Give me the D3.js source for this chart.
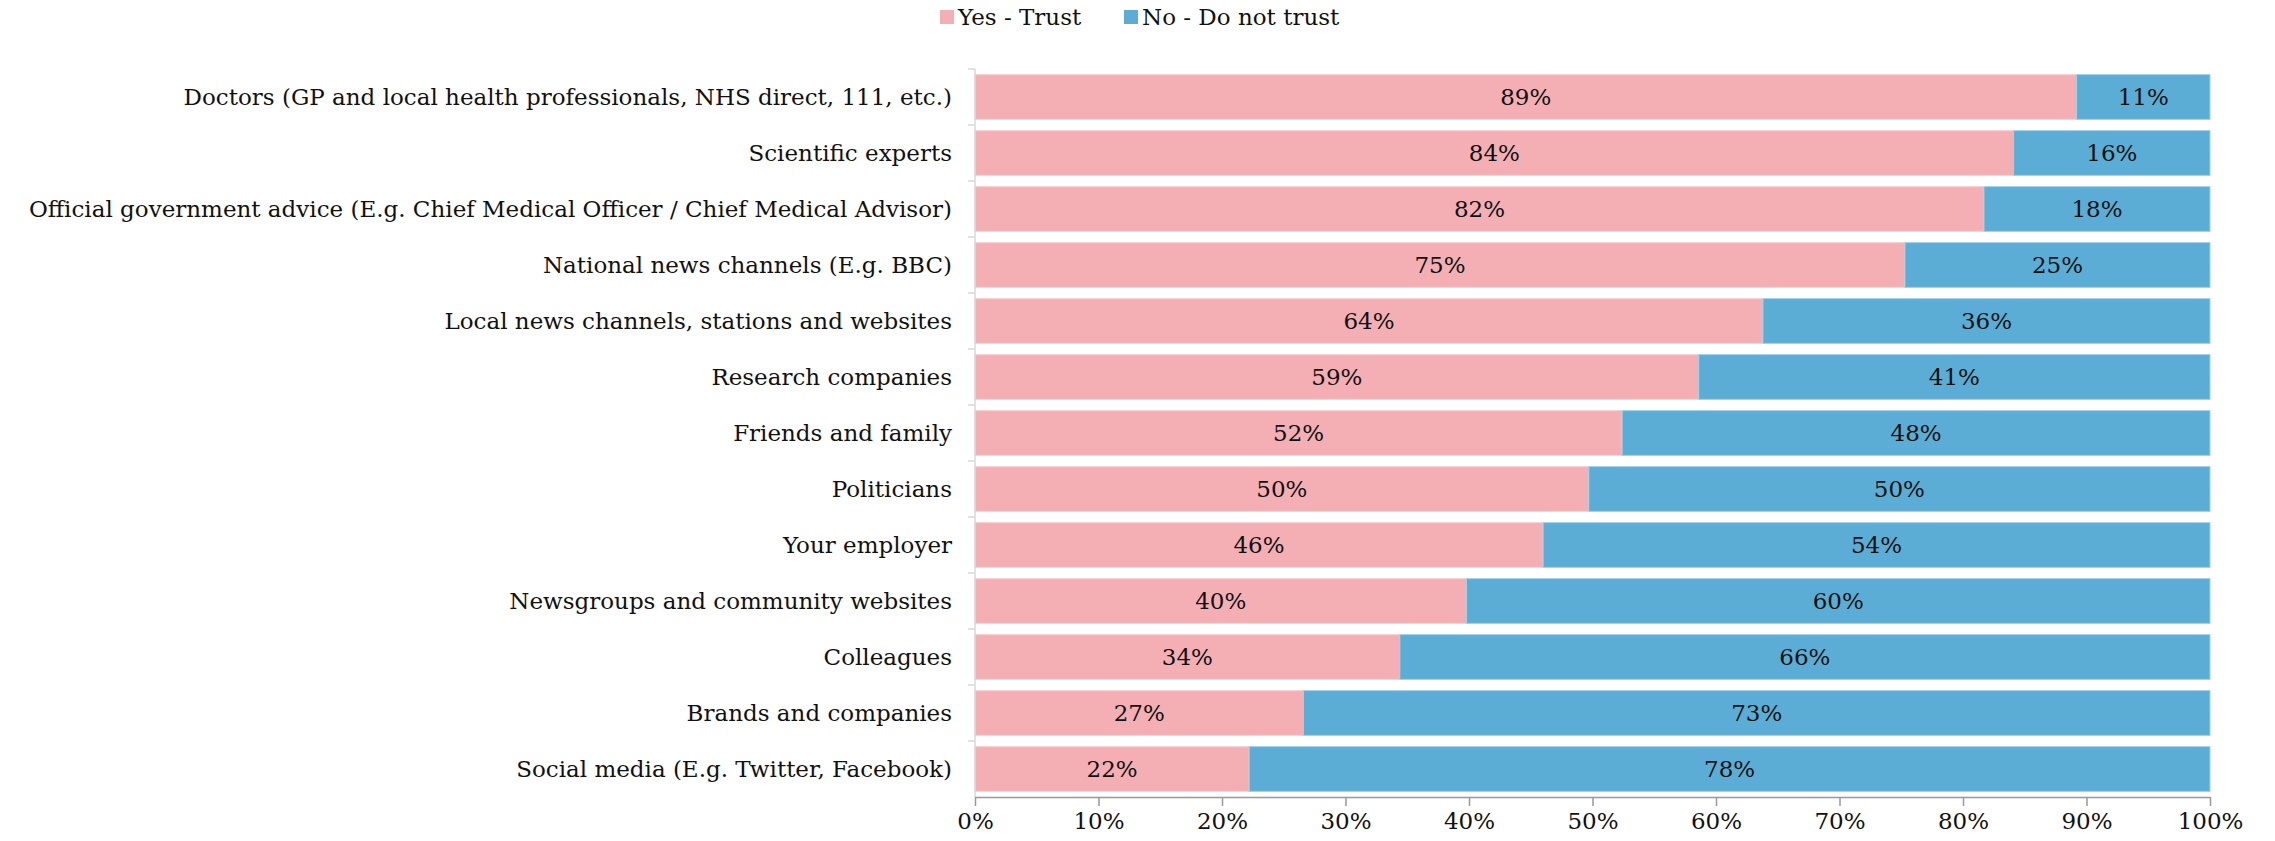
<!DOCTYPE html>
<html>
<head>
<meta charset="utf-8">
<script src="https://cdn.jsdelivr.net/npm/d3@7"></script>
<style>
  html, body { margin: 0; padding: 0; background: #fff; }
  svg { display: block; }
  text { font-family: "DejaVu Serif", Georgia, serif; fill: #111; }
</style>
</head>
<body>
<svg id="chart" width="2275" height="841"></svg>
<script>
const categories = [
  "Doctors (GP and local health professionals, NHS direct, 111, etc.)",
  "Scientific experts",
  "Official government advice (E.g. Chief Medical Officer / Chief Medical Advisor)",
  "National news channels (E.g. BBC)",
  "Local news channels, stations and websites",
  "Research companies",
  "Friends and family",
  "Politicians",
  "Your employer",
  "Newsgroups and community websites",
  "Colleagues",
  "Brands and companies",
  "Social media (E.g. Twitter, Facebook)"
];
const yesTrust = [89.2, 84.1, 81.7, 75.3, 63.8, 58.6, 52.4, 49.7, 46.0, 39.8, 34.4, 26.6, 22.2];
const noTrust  = [10.8, 15.9, 18.3, 24.7, 36.2, 41.4, 47.6, 50.3, 54.0, 60.2, 65.6, 73.4, 77.8];
const seriesNames = ["Yes - Trust", "No - Do not trust"];
const seriesColors = ["#F4AFB4", "#5BADD5"];
const xTicks = [0, 10, 20, 30, 40, 50, 60, 70, 80, 90, 100];

const svg = d3.select("#chart");
const margin = { left: 975, right: 65, top: 69, bottom: 44 };
const W = 2275, H = 841;
const fontSize = 23;

const x = d3.scaleLinear().domain([0, 100]).range([margin.left, W - margin.right]);
const y = d3.scaleBand().domain(categories).range([margin.top, H - margin.bottom]).paddingInner(0.2).paddingOuter(0.1);

const rows = categories.map((c, i) => ({ cat: c, vals: [yesTrust[i], noTrust[i]] }));

// bars
const g = svg.append("g");
rows.forEach(r => {
  let acc = 0;
  r.vals.forEach((v, k) => {
    g.append("rect")
      .attr("x", x(acc))
      .attr("y", y(r.cat))
      .attr("width", x(acc + v) - x(acc))
      .attr("height", y.bandwidth())
      .attr("fill", seriesColors[k])
      .attr("stroke", k === 0 ? "#f8d0d3" : "#9fd0e8")
      .attr("stroke-width", 1);
    g.append("text")
      .attr("x", x(acc + v / 2))
      .attr("y", y(r.cat) + y.bandwidth() / 2)
      .attr("text-anchor", "middle")
      .attr("dominant-baseline", "central")
      .attr("font-size", fontSize)
      .text(Math.round(v) + "%");
    acc += v;
  });
});

// y axis
const step = y.step();
const yAxisG = svg.append("g");
yAxisG.append("line")
  .attr("x1", margin.left).attr("x2", margin.left)
  .attr("y1", margin.top).attr("y2", H - margin.bottom)
  .attr("stroke", "#d9d9d9").attr("stroke-width", 1.5);
categories.forEach((c, i) => {
  const yy = y(c) - step * y.paddingInner() / 2;
  yAxisG.append("line")
    .attr("x1", margin.left - 7).attr("x2", margin.left)
    .attr("y1", yy).attr("y2", yy)
    .attr("stroke", "#d9d9d9").attr("stroke-width", 1.5);
  yAxisG.append("text")
    .attr("x", margin.left - 23)
    .attr("y", y(c) + y.bandwidth() / 2)
    .attr("text-anchor", "end")
    .attr("dominant-baseline", "central")
    .attr("font-size", fontSize)
    .text(c);
});

// x axis
const xAxis = d3.axisBottom(x).tickValues(xTicks).tickFormat(d => d + "%").tickSize(9).tickSizeOuter(0);
const xg = svg.append("g").attr("transform", `translate(0,${H - margin.bottom})`).call(xAxis);
xg.select(".domain").attr("stroke", "#999").attr("stroke-width", 1.5);
xg.selectAll(".tick line").attr("stroke", "#999").attr("stroke-width", 1.5);
xg.selectAll(".tick text")
  .attr("font-family", "DejaVu Serif, serif")
  .attr("font-size", fontSize)
  .attr("fill", "#111")
  .attr("dy", "0.85em");

// legend
const legend = svg.append("g");
const legendX = [940, 1124];
seriesNames.forEach((n, k) => {
  legend.append("rect")
    .attr("x", legendX[k]).attr("y", 10).attr("width", 14).attr("height", 14)
    .attr("fill", seriesColors[k]);
  legend.append("text")
    .attr("x", legendX[k] + 18).attr("y", 17)
    .attr("dominant-baseline", "central")
    .attr("font-size", fontSize)
    .text(n);
});
</script>
</body>
</html>
